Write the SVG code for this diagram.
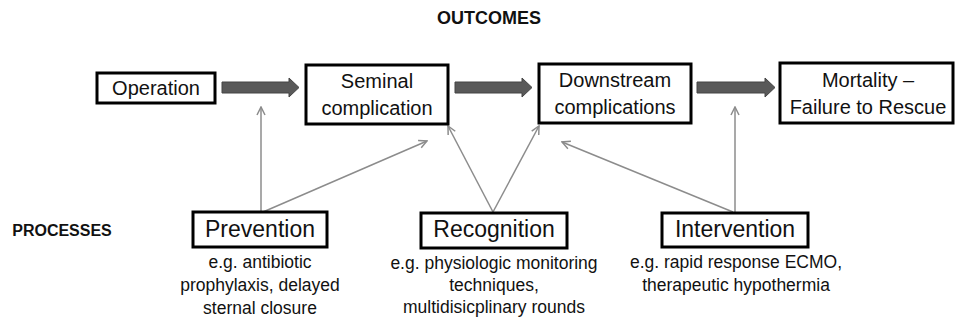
<svg xmlns="http://www.w3.org/2000/svg" width="955" height="321" viewBox="0 0 955 321">
<defs>
<style>
.box{fill:#fff;stroke:#000;stroke-width:3}
.t{font-family:"Liberation Sans",Arial,sans-serif;fill:#111;text-anchor:middle}
.n{font-size:20px}
.p{font-size:23px}
.d{font-size:17.5px}
.h{font-weight:bold}
.thin{fill:none;stroke:#8c8c8c;stroke-width:1.5;marker-end:url(#open)}
.fat{fill:#595959;stroke:#444;stroke-width:1}
</style>
<marker id="open" viewBox="0 0 10 10" refX="9" refY="5" markerWidth="10" markerHeight="10" markerUnits="userSpaceOnUse" orient="auto">
<path d="M1,1 L9,5 L1,9" fill="none" stroke="#8c8c8c" stroke-width="1.5"/>
</marker>
</defs>
<rect width="955" height="321" fill="#fff"/>
<text class="t h" x="489" y="24" font-size="18">OUTCOMES</text>
<text class="t h" x="62" y="236" font-size="16">PROCESSES</text>
<g id="connectors">
<path class="fat" d="M222,82 H289 V78 L299,87.5 L289,97 V93 H222 Z"/>
<path class="fat" d="M455,82 H522 V78 L532,87.5 L522,97 V93 H455 Z"/>
<path class="fat" d="M697,82 H765 V78 L775,87.5 L765,97 V93 H697 Z"/>
<line class="thin" x1="261" y1="212" x2="261" y2="107"/>
<line class="thin" x1="263" y1="212" x2="427" y2="141"/>
<line class="thin" x1="493" y1="212" x2="448" y2="126"/>
<line class="thin" x1="493" y1="212" x2="539" y2="126"/>
<line class="thin" x1="733" y1="212" x2="562" y2="142"/>
<line class="thin" x1="735" y1="212" x2="735" y2="107"/>
</g>
<g id="operation">
<rect class="box" x="97" y="73" width="118" height="30"/>
<text class="t n" x="156" y="95">Operation</text>
</g>
<g id="seminal">
<rect class="box" x="306" y="65" width="142" height="59"/>
<text class="t n" x="377" y="88">Seminal</text>
<text class="t n" x="377" y="115">complication</text>
</g>
<g id="downstream">
<rect class="box" x="539" y="64" width="152" height="59"/>
<text class="t n" x="615" y="87">Downstream</text>
<text class="t n" x="615" y="114">complications</text>
</g>
<g id="mortality">
<rect class="box" x="780" y="63" width="173" height="60"/>
<text class="t n" x="868" y="87">Mortality –</text>
<text class="t n" x="868" y="114">Failure to Rescue</text>
</g>
<g id="prevention">
<rect class="box" x="193" y="212" width="134" height="35"/>
<text class="t p" x="260" y="237">Prevention</text>
<text class="t d" x="260" y="268">e.g. antibiotic</text>
<text class="t d" x="260" y="291">prophylaxis, delayed</text>
<text class="t d" x="260" y="314">sternal closure</text>
</g>
<g id="recognition">
<rect class="box" x="421" y="213" width="146" height="35"/>
<text class="t p" x="494" y="237">Recognition</text>
<text class="t d" x="494" y="269">e.g. physiologic monitoring</text>
<text class="t d" x="494" y="291">techniques,</text>
<text class="t d" x="494" y="313">multidisicplinary rounds</text>
</g>
<g id="intervention">
<rect class="box" x="662" y="213" width="146" height="34"/>
<text class="t p" x="735" y="237">Intervention</text>
<text class="t d" x="736" y="268">e.g. rapid response ECMO,</text>
<text class="t d" x="736" y="291">therapeutic hypothermia</text>
</g>
</svg>
